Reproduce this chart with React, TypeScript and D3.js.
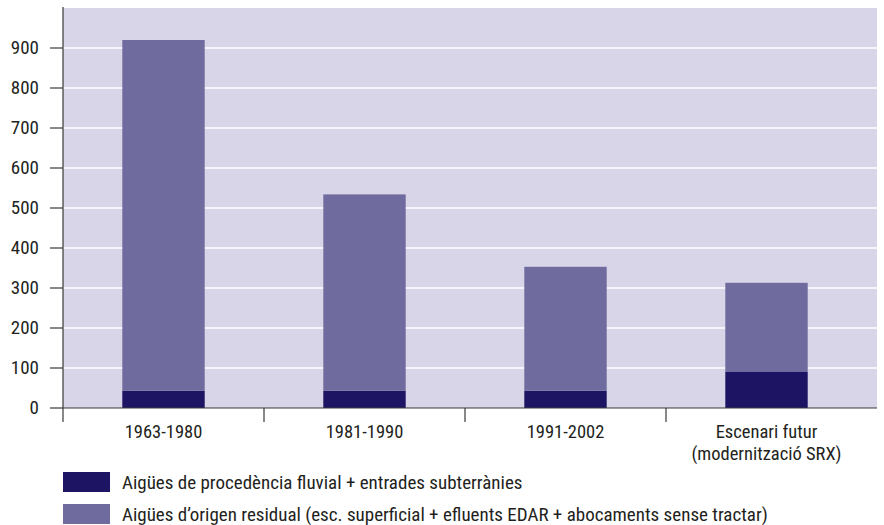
import React from "react";
import * as d3 from "d3";

const categories = ["1963-1980", "1981-1990", "1991-2002", "Escenari futur"];
const categoryLines: string[][] = [
  ["1963-1980"],
  ["1981-1990"],
  ["1991-2002"],
  ["Escenari futur", "(modernització SRX)"],
];
const fluvial = [43, 43, 43, 90];
const residual = [877, 491, 310, 223];
const yTicks = [0, 100, 200, 300, 400, 500, 600, 700, 800, 900];
const seriesKeys = ["fluvial", "residual"];
const seriesColors = ["#1e1464", "#706b9f"];
const legendLabels = [
  "Aigües de procedència fluvial + entrades subterrànies",
  "Aigües d\u2019origen residual (esc. superficial + efluents EDAR + abocaments sense tractar)",
];

const FONT = "'Liberation Sans Narrow', 'Roboto Condensed', 'DejaVu Sans Condensed', sans-serif";

export default function App() {
  const W = 884, H = 525;
  const left = 63, right = 867, plotRight = 877, top = 8, bottom = 408;
  const x = d3.scaleBand<string>().domain(categories).range([left, right]).padding(0);
  const y = d3.scaleLinear().domain([0, 1000]).range([bottom, top]);
  const rows = categories.map((c, i) => ({ cat: c, fluvial: fluvial[i], residual: residual[i] }));
  const stacked = d3.stack<any>().keys(seriesKeys)(rows);
  const barW = x.bandwidth() * 0.41;
  const textColor = "#231f20";
  const axisColor = "#3a3a3a";

  return (
    <svg width={W} height={H} style={{ position: "absolute", left: 0, top: 0 }} fontFamily={FONT}>
      <rect x={left} y={top} width={plotRight - left} height={bottom - top} fill="#d7d5e7" />
      {yTicks.filter((t) => t > 0).map((t) => (
        <line key={"g" + t} x1={left} x2={plotRight} y1={y(t)} y2={y(t)} stroke="#ffffff" strokeWidth={1.5} />
      ))}
      {stacked.map((s, si) =>
        s.map((d, i) => (
          <rect
            key={si + "-" + i}
            x={(x(categories[i]) as number) + x.bandwidth() / 2 - barW / 2}
            y={y(d[1])}
            width={barW}
            height={y(d[0]) - y(d[1])}
            fill={seriesColors[si]}
          />
        ))
      )}
      {/* y axis */}
      <line x1={left} x2={left} y1={top - 1} y2={bottom + 14} stroke={axisColor} strokeWidth={1.2} />
      {yTicks.map((t) => (
        <g key={"t" + t}>
          <line x1={left - 13} x2={left} y1={y(t)} y2={y(t)} stroke={axisColor} strokeWidth={1.2} />
          <text x={39} y={y(t)} dy="0.33em" textAnchor="end" fontSize={19} fill={textColor}>
            {t}
          </text>
        </g>
      ))}
      {/* x axis */}
      <line x1={left} x2={plotRight} y1={bottom} y2={bottom} stroke={axisColor} strokeWidth={1.2} />
      {categories.slice(1).map((c) => (
        <line key={"xt" + c} x1={x(c) as number} x2={x(c) as number} y1={bottom} y2={bottom + 14} stroke={axisColor} strokeWidth={1.2} />
      ))}
      {categoryLines.map((lines, i) =>
        lines.map((l, j) => (
          <text
            key={"xl" + i + "-" + j}
            x={(x(categories[i]) as number) + x.bandwidth() / 2}
            y={438 + j * 21.5}
            textAnchor="middle"
            fontSize={18.5}
            fill={textColor}
          >
            {l}
          </text>
        ))
      )}
      {/* legend */}
      {legendLabels.map((l, i) => (
        <g key={"lg" + i} transform={`translate(63, ${472 + i * 32})`}>
          <rect x={0} y={0} width={47} height={20} fill={seriesColors[i]} />
          <text x={59} y={10} dy="0.35em" fontSize={19} fill={textColor}>
            {l}
          </text>
        </g>
      ))}
    </svg>
  );
}
